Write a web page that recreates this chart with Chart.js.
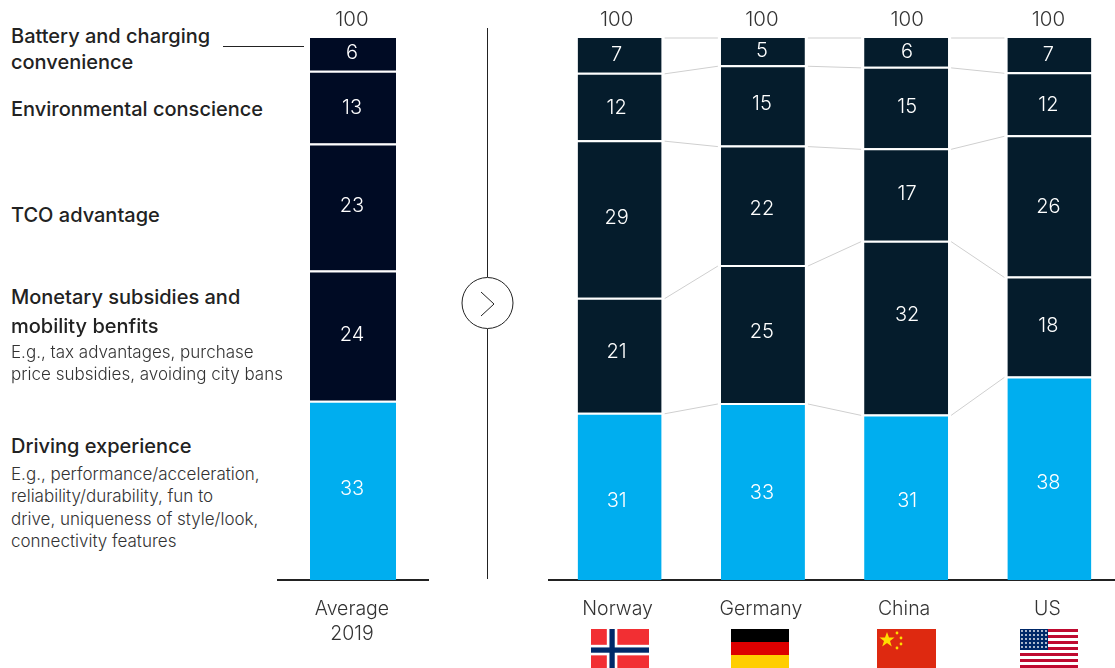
<!DOCTYPE html>
<html>
<head>
<meta charset="utf-8">
<title>EV purchase reasons</title>
<script src="https://cdn.jsdelivr.net/npm/chart.js@4"></script>
<style>
html, body { margin: 0; padding: 0; background: #fff; }
body { position: relative; width: 1115px; height: 668px; overflow: hidden; font-family: Inter, sans-serif; color: #222; }
.holder { position: absolute; top: 0; height: 668px; }
.t { position: absolute; left: 11px; white-space: nowrap; line-height: 24px; }
.b { font-size: 20px; font-weight: 500; color: #222; }
.s { font-size: 17px; font-weight: 300; color: #333; }
svg { position: absolute; overflow: hidden; }
</style>
</head>
<body>

<div class="holder" style="left:277px;width:152px"><canvas id="avgChart"></canvas></div>
<div class="holder" style="left:548px;width:573px"><canvas id="countryChart"></canvas></div>

<div class="t b" style="top:24px">Battery and charging</div>
<div class="t b" style="top:50px">convenience</div>
<div class="t b" style="top:97px">Environmental conscience</div>
<div class="t b" style="top:203px">TCO advantage</div>
<div class="t b" style="top:285px">Monetary subsidies and</div>
<div class="t b" style="top:314px">mobility benfits</div>
<div class="t s" style="top:340px">E.g., tax advantages, purchase</div>
<div class="t s" style="top:362px">price subsidies, avoiding city bans</div>
<div class="t b" style="top:434px">Driving experience</div>
<div class="t s" style="top:462px">E.g., performance/acceleration,</div>
<div class="t s" style="top:484px">reliability/durability, fun to</div>
<div class="t s" style="top:507px">drive, uniqueness of style/look,</div>
<div class="t s" style="top:529px">connectivity features</div>

<div style="position:absolute;left:223px;top:46px;width:81px;height:1px;background:#222"></div>

<!-- divider with the arrow -->
<svg style="left:455px;top:20px" width="64" height="565">
  <line x1="32.5" y1="8" x2="32.5" y2="257" stroke="#222"/>
  <line x1="32.5" y1="309" x2="32.5" y2="559" stroke="#222"/>
  <circle cx="32.5" cy="283" r="25.5" fill="none" stroke="#222"/>
  <polyline points="26,272 39,284 26,296" fill="none" stroke="#222"/>
</svg>

<!-- flags -->
<svg style="left:591px;top:629px" width="58" height="39" viewBox="0 0 22 14.8" preserveAspectRatio="none">
  <rect width="22" height="16" fill="#f22f33"/>
  <rect x="6" width="4" height="16" fill="#fff"/><rect y="6" width="22" height="4" fill="#fff"/>
  <rect x="7" width="2" height="16" fill="#002868"/><rect y="7" width="22" height="2" fill="#002868"/>
</svg>
<svg style="left:731px;top:629px" width="58" height="39" viewBox="0 0 3 3" preserveAspectRatio="none">
  <rect width="3" height="1" fill="#000"/><rect y="1" width="3" height="1" fill="#dd0000"/><rect y="2" width="3" height="1" fill="#ffce00"/>
</svg>
<svg style="left:877px;top:629px" width="59" height="39" viewBox="0 0 59 39">
  <rect width="59" height="39" fill="#de2910"/>
  <polygon points="10,3 12,8.5 17.5,8.5 13,12 14.8,17.5 10,14 5.2,17.5 7,12 2.5,8.5 8,8.5" fill="#ffde00"/>
  <circle cx="20" cy="4" r="1.4" fill="#ffde00"/><circle cx="24" cy="9" r="1.4" fill="#ffde00"/>
  <circle cx="24" cy="15" r="1.4" fill="#ffde00"/><circle cx="20" cy="19" r="1.4" fill="#ffde00"/>
</svg>
<svg style="left:1020px;top:629px" width="58" height="39" viewBox="0 0 58 39">
  <defs><pattern id="stars" width="4" height="4" patternUnits="userSpaceOnUse"><circle cx="2" cy="2" r="0.9" fill="#fff"/></pattern></defs>
  <rect width="58" height="39" fill="#fff"/>
  <g fill="#bf0a30">
    <rect y="0" width="58" height="3"/><rect y="6" width="58" height="3"/><rect y="12" width="58" height="3"/>
    <rect y="18" width="58" height="3"/><rect y="24" width="58" height="3"/><rect y="30" width="58" height="3"/><rect y="36" width="58" height="3"/>
  </g>
  <rect width="28" height="21" fill="#002868"/><rect width="28" height="21" fill="url(#stars)"/>
</svg>

<script>
// bottom to top, the same order in both charts
var segments = ['Driving experience', 'Monetary subsidies and mobility benefits', 'TCO advantage', 'Environmental conscience', 'Battery and charging convenience'];

var avgLabels = [['Average', '2019']];
var avgDriving = [33];
var avgMonetary = [24];
var avgTco = [23.4];
var avgEnv = [13.4];
var avgBattery = [6.2];
var avgTotals = [100];

var countries = ['Norway', 'Germany', 'China', 'US'];
var driving = [30.8, 32.6, 30.5, 37.5];
var monetary = [21.2, 25.4, 32, 18.4];
var tco = [29, 22, 17, 26];
var env = [12.4, 14.8, 15, 11.6];
var battery = [6.6, 5.2, 5.5, 6.5];
var countryTotals = [100, 100, 100, 100];

var BLUE = '#00aeef';
var FONT = 'Inter, sans-serif';

// hand placement of the numbers, the source does not centre them exactly
var avgShiftY = [[0], [0], [0], [2], [0]];
var avgShiftX = [0];
var countryShiftY = [[6, 2, 5, 6], [-2, -1, -12, 1], [0, 5, 1, 2], [2, 0, 0, 2], [1, 1, 1, 1]];
var countryShiftX = [-2, 0, 2, 0];

// numbers in the bars, the 100 on top and the grey lines between bars
var barExtras = {
  id: 'barExtras',
  beforeDatasetsDraw: function(chart) {
    var ctx = chart.ctx;
    ctx.save();
    ctx.strokeStyle = '#cfcfcf';
    ctx.lineWidth = 1;
    chart.data.datasets.forEach(function(ds, d) {
      var els = chart.getDatasetMeta(d).data;
      for (var i = 0; i < els.length - 1; i++) {
        ctx.beginPath();
        ctx.moveTo(els[i].x + els[i].width / 2 + 3, els[i].y + 1);
        ctx.lineTo(els[i + 1].x - els[i + 1].width / 2 - 3, els[i + 1].y + 1);
        ctx.stroke();
      }
    });
    ctx.restore();
  },
  afterDatasetsDraw: function(chart, args, opts) {
    var ctx = chart.ctx;
    ctx.save();
    ctx.textAlign = 'center';
    ctx.textBaseline = 'middle';
    ctx.font = '300 20px ' + FONT;
    ctx.fillStyle = '#fff';
    chart.data.datasets.forEach(function(ds, d) {
      chart.getDatasetMeta(d).data.forEach(function(el, i) {
        ctx.fillText(Math.round(ds.data[i]), el.x - 1 + opts.shiftX[i], (el.y + el.base) / 2 - 1 + opts.shiftY[d][i]);
      });
    });
    ctx.fillStyle = '#333';
    ctx.font = '300 20.5px ' + FONT;
    var top = chart.getDatasetMeta(chart.data.datasets.length - 1).data;
    top.forEach(function(el, i) {
      ctx.fillText(opts.totals[i], el.x - 1 + opts.shiftX[i], 20);
    });
    ctx.restore();
  }
};

function makeChart(id, labels, rows, dark, totals, barPct, shiftX, shiftY, tickShift) {
  var colors = [BLUE, dark, dark, dark, dark];
  return new Chart(document.getElementById(id), {
    type: 'bar',
    data: {
      labels: labels,
      datasets: rows.map(function(row, i) {
        return {
          label: segments[i],
          data: row,
          backgroundColor: colors[i],
          borderColor: '#fff',
          borderSkipped: false,
          borderWidth: { top: i == rows.length - 1 ? 1 : 2, bottom: 0, left: 0, right: 0 },
          barPercentage: barPct,
          categoryPercentage: 1
        };
      })
    },
    plugins: [barExtras],
    options: {
      responsive: true,
      maintainAspectRatio: false,
      animation: false,
      layout: { padding: { top: 37 } },
      plugins: {
        legend: { display: false },
        tooltip: { enabled: false },
        barExtras: { totals: totals, shiftX: shiftX, shiftY: shiftY }
      },
      scales: {
        x: {
          stacked: true,
          grid: { display: false, drawTicks: false },
          border: { color: '#222', width: 2 },
          ticks: { color: '#333', padding: 17, labelOffset: tickShift, maxRotation: 0, font: { family: FONT, size: 19.5, weight: 300, lineHeight: 1.28 } },
          afterFit: function(scale) { scale.height = 88; }
        },
        y: { stacked: true, display: false, min: 0, max: 100 }
      }
    }
  });
}

makeChart('avgChart', avgLabels, [avgDriving, avgMonetary, avgTco, avgEnv, avgBattery], '#000b24', avgTotals, 86 / 152, avgShiftX, avgShiftY, -1);
makeChart('countryChart', countries, [driving, monetary, tco, env, battery], '#051c2c', countryTotals, 84 / 143.25, countryShiftX, countryShiftY, -2);
</script>
</body>
</html>
